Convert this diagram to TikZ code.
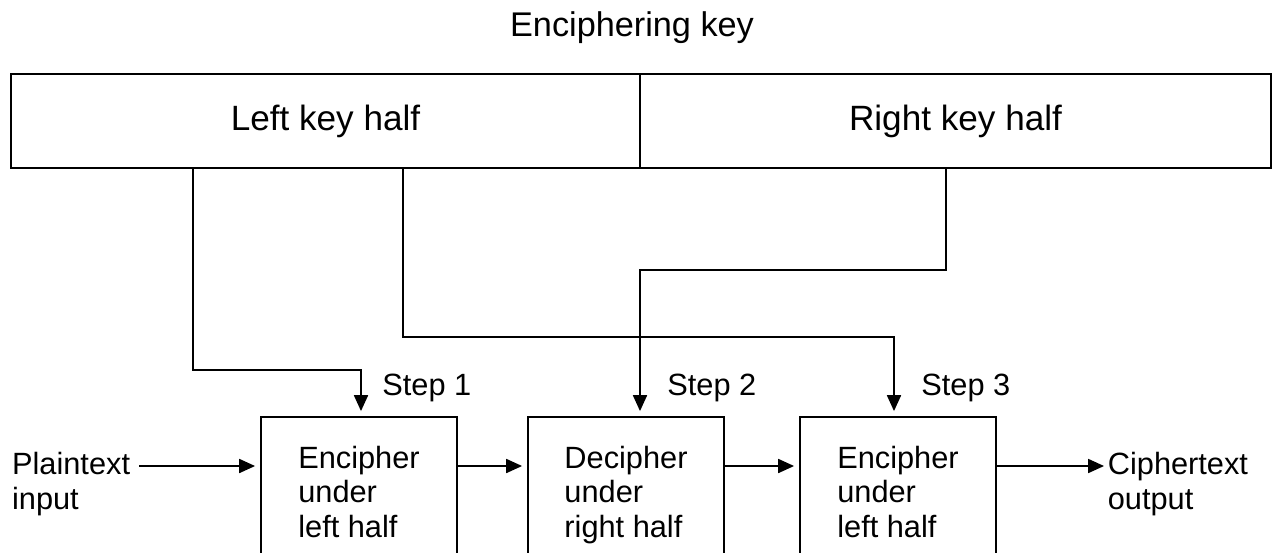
\documentclass[tikz,border=0pt]{standalone}
\usepackage{fontspec}
\setmainfont{Liberation Sans}
\usetikzlibrary{arrows.meta, positioning}
\definecolor{inkblack}{RGB}{0, 0, 0}

\begin{document}
\begin{tikzpicture}[x=0.02cm, y=-0.02cm,
    keyhalf/.style={draw=inkblack, line width=0.8pt, minimum height=1.88cm, inner sep=0pt, font=\fontsize{20}{24}\selectfont},
    stepbox/.style={draw=inkblack, line width=0.8pt, minimum width=3.92cm, minimum height=3.2cm, align=left, inner sep=0pt, font=\fontsize{17.5}{19.8}\selectfont},
    sidetext/.style={align=left, inner ysep=0pt, inner xsep=5pt, font=\fontsize{17.5}{19.8}\selectfont},
    steplabel/.style={anchor=base west, inner sep=0pt, font=\fontsize{17.5}{20}\selectfont},
    link/.style={draw=inkblack, line width=0.8pt, -{Triangle[length=9pt, width=8pt]}, shorten >=3pt}]
    \useasboundingbox (0,0) rectangle (1274,552);
    \clip (0,0) rectangle (1274,552);

    % key
    \node[anchor=base, font=\fontsize{19.5}{23}\selectfont] (title) at (632,36) {Enciphering key};
    \node[keyhalf, minimum width=12.58cm] (keyL) at (325.5,121) {Left key half};
    \node[keyhalf, minimum width=12.62cm] (keyR) at (955.5,121) {Right key half};

    % steps
    \node[stepbox] (box1) at (359,497) {Encipher\\under\\left half\strut};
    \node[stepbox] (box2) at (626,497) {Decipher\\under\\right half\strut};
    \node[stepbox] (box3) at (898,497) {Encipher\\under\\left half\strut};
    \node[steplabel] (lab1) at (382,395) {Step 1};
    \node[steplabel] (lab2) at (667,395) {Step 2};
    \node[steplabel] (lab3) at (921,395) {Step 3};

    \node[sidetext, anchor=west] (plain) at (3,484) {Plaintext\\input};
    \node[sidetext, anchor=west, inner xsep=2pt] (cipher) at (1104,484) {Ciphertext\\output};

    \coordinate (row) at (0,466);
    \coordinate (tap1) at (193,168);
    \coordinate (tap2) at (946,168);
    \coordinate (tap3) at (403,168);
    \coordinate (bend1) at (361,370);
    \coordinate (bend2) at (640,270);
    \coordinate (bend3) at (894,337);

    \draw[link] (tap1) |- (bend1) -- (bend1 |- box1.north);
    \draw[link] (tap2) |- (bend2) -- (bend2 |- box2.north);
    \draw[link] (tap3) |- (bend3) -- (bend3 |- box3.north);

    \draw[link] (plain.east |- row) -- (box1.west |- row);
    \draw[link] (box1.east |- row) -- (box2.west |- row);
    \draw[link] (box2.east |- row) -- (box3.west |- row);
    \draw[link, shorten >=0pt] (box3.east |- row) -- (cipher.west |- row);
\end{tikzpicture}
\end{document}
